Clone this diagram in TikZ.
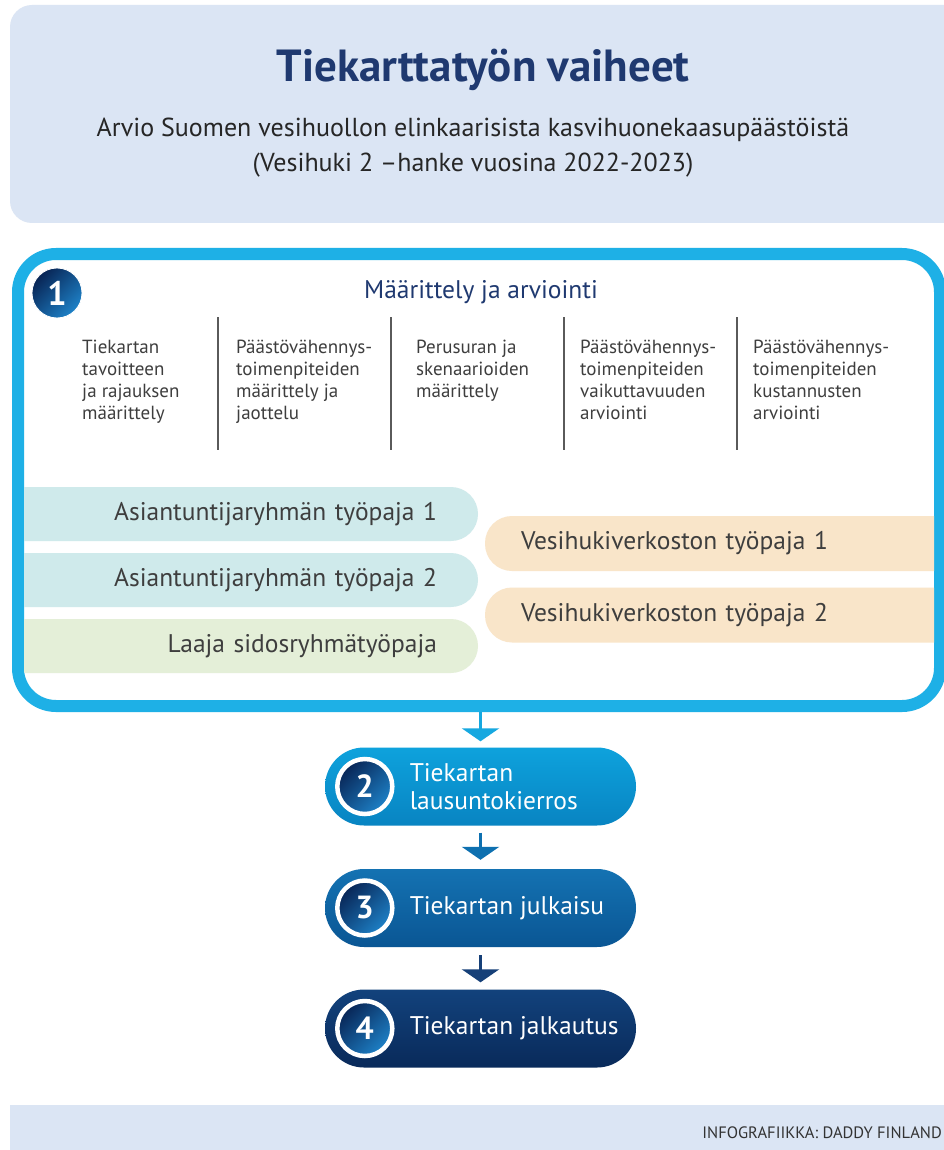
\documentclass[tikz,border=0pt]{standalone}
\usepackage{fontspec}
\setmainfont{PT Sans}
\usepackage{xcolor}
\usepackage{tikz}
\usetikzlibrary{positioning,arrows.meta}
\definecolor{headbg}{RGB}{219,229,244}
\definecolor{navy}{RGB}{31,57,112}
\definecolor{framecyan}{RGB}{30,176,230}
\definecolor{txtgray}{RGB}{62,62,62}
\definecolor{rulegray}{RGB}{90,90,90}
\definecolor{tealpill}{RGB}{207,234,235}
\definecolor{greenpill}{RGB}{228,239,216}
\definecolor{peachpill}{RGB}{249,229,201}
\definecolor{stepAtop}{RGB}{14,162,220}
\definecolor{stepAbot}{RGB}{8,132,194}
\definecolor{stepBtop}{RGB}{20,114,178}
\definecolor{stepBbot}{RGB}{10,86,148}
\definecolor{stepCtop}{RGB}{18,66,124}
\definecolor{stepCbot}{RGB}{9,42,90}
\definecolor{badgedark}{RGB}{8,36,84}
\definecolor{badgelight}{RGB}{30,130,200}
\definecolor{arrowA}{RGB}{22,168,224}
\definecolor{arrowB}{RGB}{14,112,176}
\definecolor{arrowC}{RGB}{22,64,120}
\tikzset{
  title/.style    = {font=\fontsize{45}{50}\selectfont\bfseries, text=navy, inner sep=0pt},
  subtitle/.style = {font=\fontsize{26}{30}\selectfont, text=black!85, inner sep=0pt},
  phasebox/.style = {draw=framecyan, line width=12pt, fill=white, rounded corners=38pt,
                     minimum width=922pt, minimum height=452pt},
  phasehead/.style = {font=\fontsize{25.5}{28}\selectfont, text=navy, inner sep=0pt},
  coltext/.style  = {font=\fontsize{19}{22}\selectfont, text=txtgray, align=left,
                     anchor=north west, inner sep=0pt,
                     execute at begin node=\rule{0pt}{15pt}},
  divider/.style  = {rulegray, line width=1.6pt},
  lpill/.style    = {rounded corners=27pt, minimum width=508pt, minimum height=54pt,
                     text width=426pt, align=right, inner sep=0pt,
                     font=\fontsize{25.5}{28}\selectfont, text=txtgray},
  rpill/.style    = {rounded corners=27pt, minimum width=505pt, minimum height=55pt,
                     text width=433pt, align=left, inner sep=0pt,
                     font=\fontsize{25.5}{28}\selectfont, text=txtgray},
  numbadge/.style = {circle, minimum size=50pt, inner sep=0pt, draw=white, line width=0.8pt,
                     top color=badgedark, bottom color=badgelight, shading angle=45,
                     text=white, font=\fontsize{34}{34}\selectfont\bfseries},
  stepbadge/.style = {numbadge, minimum size=55pt, line width=4.5pt,
                     font=\fontsize{32}{32}\selectfont\bfseries},
  steppill/.style = {minimum width=311pt, minimum height=78pt, rounded corners=39pt, inner sep=0pt},
  steptext/.style = {font=\fontsize{25.5}{28}\selectfont, text=white, align=left, inner sep=0pt},
  flow/.style     = {line width=3pt, -{Triangle[width=37pt,length=13pt]}, shorten >=6pt},
  credit/.style   = {font=\fontsize{16.5}{18}\selectfont, text=black!80, inner sep=0pt}
}

\begin{document}
\begin{tikzpicture}[x=1pt,y=-1pt]
  \useasboundingbox (0,0) rectangle (943,1150);
  \fill[white] (0,0) rectangle (943,1150);
  % header
  \fill[headbg, rounded corners=22pt] (10,5) rectangle (990,223);
  \node[title, anchor=base] (title) at (483,82) {Tiekarttatyön vaiheet};
  \node[subtitle, anchor=base] (sub1) at (473,137) {Arvio Suomen vesihuollon elinkaarisista kasvihuonekaasupäästöistä};
  \node[subtitle, anchor=base] (sub2) at (473,172) {(Vesihuki 2 –hanke vuosina 2022-2023)};

  % phase 1
  \node[phasebox] (phase1) at (479,480) {};
  \node[numbadge] (badge1) at (57,293) {1};
  \node[phasehead, anchor=base] (head1) at (481,298) {Määrittely ja arviointi};
  \foreach \x in {218,391,564,737}
    \draw[divider] (\x,317) -- (\x,450);
  \node[coltext] (col1) at (82,340) {Tiekartan\\tavoitteen\\ja rajauksen\\määrittely};
  \node[coltext] (col2) at (236,340) {Päästövähennys-\\toimenpiteiden\\määrittely ja\\jaottelu};
  \node[coltext] (col3) at (416,340) {Perusuran ja\\skenaarioiden\\määrittely};
  \node[coltext] (col4) at (580,340) {Päästövähennys-\\toimenpiteiden\\vaikuttavuuden\\arviointi};
  \node[coltext] (col5) at (753,340) {Päästövähennys-\\toimenpiteiden\\kustannusten\\arviointi};

  \begin{scope}
    \clip[rounded corners=32pt] (24,260) rectangle (934,700);
    \node[lpill, fill=tealpill] (expert1) at (224,514) {Asiantuntijaryhmän työpaja 1};
    \node[lpill, fill=tealpill] (expert2) at (224,580) {Asiantuntijaryhmän työpaja 2};
    \node[lpill, fill=greenpill] (stake) at (224,646) {Laaja sidosryhmätyöpaja};
    \node[rpill, fill=peachpill] (net1) at (737.5,543.5) {Vesihukiverkoston työpaja 1};
    \node[rpill, fill=peachpill] (net2) at (737.5,615) {Vesihukiverkoston työpaja 2};
  \end{scope}

  % phases 2-4
  \node[steppill, top color=stepAtop, bottom color=stepAbot] (step2) at (480.5,786.5) {};
  \node[stepbadge] (badge2) at ([xshift=40pt]step2.west) {2};
  \node[steptext, right=15pt of badge2] (text2) {Tiekartan\\lausuntokierros};

  \node[steppill, top color=stepBtop, bottom color=stepBbot] (step3) at (480.5,908) {};
  \node[stepbadge] (badge3) at ([xshift=40pt]step3.west) {3};
  \node[steptext, right=15pt of badge3] (text3) {Tiekartan julkaisu};

  \node[steppill, top color=stepCtop, bottom color=stepCbot] (step4) at (480.5,1028.5) {};
  \node[stepbadge] (badge4) at ([xshift=40pt]step4.west) {4};
  \node[steptext, right=15pt of badge4] (text4) {Tiekartan jalkautus};

  \draw[flow, arrowA] (phase1.south -| step2.north) -- (step2.north);
  \draw[flow, arrowB, shorten <=7pt, shorten >=9pt] (step2.south) -- (step3.north);
  \draw[flow, arrowC, shorten <=8pt, shorten >=7pt] (step3.south) -- (step4.north);

  % footer
  \fill[headbg] (10,1105) rectangle (990,1160);
  \node[credit, anchor=base east] (credit) at (942,1138) {INFOGRAFIIKKA: DADDY FINLAND};
\end{tikzpicture}
\end{document}
